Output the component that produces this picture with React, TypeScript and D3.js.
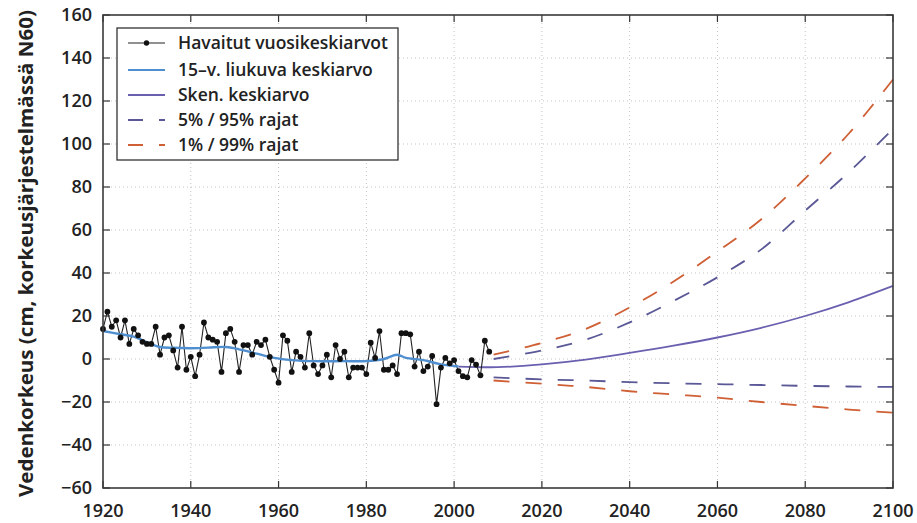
import React from "react";
import * as d3 from "d3";

const W = 917;
const H = 523;
const PLOT = { left: 103, right: 893, top: 15, bottom: 488 };

const xTicks = [1920, 1940, 1960, 1980, 2000, 2020, 2040, 2060, 2080, 2100];
const yTicks = [-60, -40, -20, 0, 20, 40, 60, 80, 100, 120, 140, 160];

const obsYears = d3.range(1920, 2009);
const obsValues = [
  14, 22, 15, 18, 10, 18, 7, 14, 11, 8,
  7, 7, 15, 2, 10, 11, 4, -4, 15, -5,
  1, -8, 2, 17, 10, 9, 8, -6, 12, 14,
  8, -6, 6.5, 6.5, 2, 8, 6.5, 9, 1, -5,
  -11, 11, 8.5, -6, 3.4, 1, -4, 12, -3, -7,
  -3, 2, -8.5, 6.5, 0, 3.4, -8.5, -4, -4, -4,
  -7, 7.6, 0.5, 13, -5, -5, -3, -7, 12, 12,
  11.5, -3.5, 3.4, -5.6, -3.5, 1.4, -21, -4, 0.5, -2,
  -0.5, -5.6, -8, -8.5, -0.5, -2.6, -7.6, 8.5, 3.4,
];

const maYears = [1920, 1924, 1927, 1930, 1933, 1936, 1940, 1944, 1948, 1951, 1955, 1959, 1963, 1968, 1975, 1980, 1984, 1987, 1989, 1993, 1997, 2001];
const maValues = [13, 11.5, 10.4, 7.8, 5.6, 5.2, 5, 5.3, 5.6, 4.5, 2.5, 0.5, -0.5, -1, -1, -1, 0, 2, 0.5, -0.5, -2.5, -3.5];

const scenYears = [2001, 2010, 2020, 2030, 2040, 2050, 2060, 2070, 2080, 2090, 2100];
const scenMean = [-3.5, -3.8, -2.5, -0.3, 2.8, 6.2, 10, 14.5, 20, 26.5, 34];

const bandYears = [2009, 2020, 2030, 2040, 2050, 2060, 2070, 2080, 2090, 2100];
const upper99 = [2, 7.5, 14, 24, 36, 50, 65, 84, 105, 130];
const upper95 = [0, 4, 9, 17, 27, 38, 51, 69, 87, 107];
const lower05 = [-8.5, -9.5, -10, -10.8, -11.3, -11.7, -12.1, -12.5, -12.8, -13];
const lower01 = [-10, -11.5, -13, -15, -16.5, -18, -20, -21.8, -23.5, -25];

const legendLabels = [
  "Havaitut vuosikeskiarvot",
  "15\u2013v. liukuva keskiarvo",
  "Sken. keskiarvo",
  "5% / 95% rajat",
  "1% / 99% rajat",
];

const C_OBS = "#222";
const C_MA = "#4f8fd0";
const C_SCEN = "#6a60b0";
const C_95 = "#5a5896";
const C_99 = "#cf5f35";
const FONT = "'Open Sans', sans-serif";

export default function App() {
  const x = d3.scaleLinear().domain([1920, 2100]).range([PLOT.left, PLOT.right]);
  const y = d3.scaleLinear().domain([-60, 160]).range([PLOT.bottom, PLOT.top]);

  const lineOf = (xs: number[], ys: number[], curve: any = d3.curveCatmullRom) =>
    d3
      .line<number>()
      .x((_, i) => x(xs[i]))
      .y((v) => y(v))
      .curve(curve)(ys) || "";

  const obsPath = lineOf(obsYears, obsValues, d3.curveLinear);
  const maPath = lineOf(maYears, maValues);
  const scenPath = lineOf(scenYears, scenMean);
  const dash = "16 16";

  const tickLen = 7;
  const legendRows = [43, 70, 95, 120, 145];
  const lx1 = 128;
  const lx2 = 165;

  return (
    <svg
      width={W}
      height={H}
      style={{ position: "absolute", left: 0, top: 0, background: "#ffffff" }}
      fontFamily={FONT}
    >
      <rect x={0} y={0} width={W} height={H} fill="#ffffff" />
      {/* grid */}
      <g stroke="#c4c4c4" strokeWidth={1} strokeDasharray="1 3">
        {xTicks.slice(1, -1).map((t) => (
          <line key={"gx" + t} x1={x(t)} x2={x(t)} y1={PLOT.top} y2={PLOT.bottom} />
        ))}
        {yTicks.slice(1, -1).map((t) => (
          <line key={"gy" + t} x1={PLOT.left} x2={PLOT.right} y1={y(t)} y2={y(t)} />
        ))}
      </g>

      {/* projections */}
      <g fill="none" strokeWidth={1.8} strokeDasharray={dash}>
        <path d={lineOf(bandYears, upper99)} stroke={C_99} />
        <path d={lineOf(bandYears, lower01)} stroke={C_99} />
        <path d={lineOf(bandYears, upper95)} stroke={C_95} />
        <path d={lineOf(bandYears, lower05)} stroke={C_95} />
      </g>
      <path d={scenPath} fill="none" stroke={C_SCEN} strokeWidth={1.8} />

      {/* observations */}
      <path d={obsPath} fill="none" stroke={C_OBS} strokeWidth={1.1} />
      <path d={maPath} fill="none" stroke={C_MA} strokeWidth={2.4} />
      <g fill="#111">
        {obsYears.map((yr, i) => (
          <circle key={yr} cx={x(yr)} cy={y(obsValues[i])} r={2.9} />
        ))}
      </g>

      {/* ticks */}
      <g stroke="#333" strokeWidth={1.2}>
        {xTicks.map((t) => (
          <g key={"tx" + t}>
            <line x1={x(t)} x2={x(t)} y1={PLOT.bottom} y2={PLOT.bottom - tickLen} />
            <line x1={x(t)} x2={x(t)} y1={PLOT.top} y2={PLOT.top + tickLen} />
          </g>
        ))}
        {yTicks.map((t) => (
          <g key={"ty" + t}>
            <line x1={PLOT.left} x2={PLOT.left + tickLen} y1={y(t)} y2={y(t)} />
            <line x1={PLOT.right} x2={PLOT.right - tickLen} y1={y(t)} y2={y(t)} />
          </g>
        ))}
      </g>

      {/* frame */}
      <rect
        x={PLOT.left}
        y={PLOT.top}
        width={PLOT.right - PLOT.left}
        height={PLOT.bottom - PLOT.top}
        fill="none"
        stroke="#3a3a3a"
        strokeWidth={1.6}
      />

      {/* tick labels */}
      <g fontSize={18} fontWeight={600} fill="#222">
        {xTicks.map((t) => (
          <text key={"lx" + t} x={x(t)} y={517} textAnchor="middle">
            {t}
          </text>
        ))}
        {yTicks.map((t) => (
          <text key={"ly" + t} x={92} y={y(t) + 6} textAnchor="end">
            {t < 0 ? "\u2212" + Math.abs(t) : String(t)}
          </text>
        ))}
      </g>

      {/* y axis title */}
      <text
        transform={`translate(33,${(PLOT.top + PLOT.bottom) / 2 + 2}) rotate(-90)`}
        textAnchor="middle"
        fontSize={19}
        fontWeight={700}
        fill="#222"
        textLength={487}
        lengthAdjust="spacingAndGlyphs"
      >
        Vedenkorkeus (cm, korkeusjärjestelmässä N60)
      </text>

      {/* legend */}
      <rect x={117} y={28} width={281} height={132} fill="#ffffff" stroke="#333" strokeWidth={1.3} />
      <g>
        <line x1={lx1} x2={lx2} y1={legendRows[0]} y2={legendRows[0]} stroke={C_OBS} strokeWidth={1} />
        <circle cx={(lx1 + lx2) / 2} cy={legendRows[0]} r={2.7} fill="#111" />
        <line x1={lx1} x2={lx2} y1={legendRows[1]} y2={legendRows[1]} stroke={C_MA} strokeWidth={2} />
        <line x1={lx1} x2={lx2} y1={legendRows[2]} y2={legendRows[2]} stroke={C_SCEN} strokeWidth={1.8} />
        <line x1={lx1} x2={lx2} y1={legendRows[3]} y2={legendRows[3]} stroke={C_95} strokeWidth={1.8} strokeDasharray="15 16" />
        <line x1={lx1} x2={lx2} y1={legendRows[4]} y2={legendRows[4]} stroke={C_99} strokeWidth={1.8} strokeDasharray="15 16" />
      </g>
      <g fontSize={17.5} fontWeight={600} fill="#222">
        {legendLabels.map((s, i) => (
          <text key={s} x={178} y={legendRows[i] + 6}>
            {s}
          </text>
        ))}
      </g>
    </svg>
  );
}
